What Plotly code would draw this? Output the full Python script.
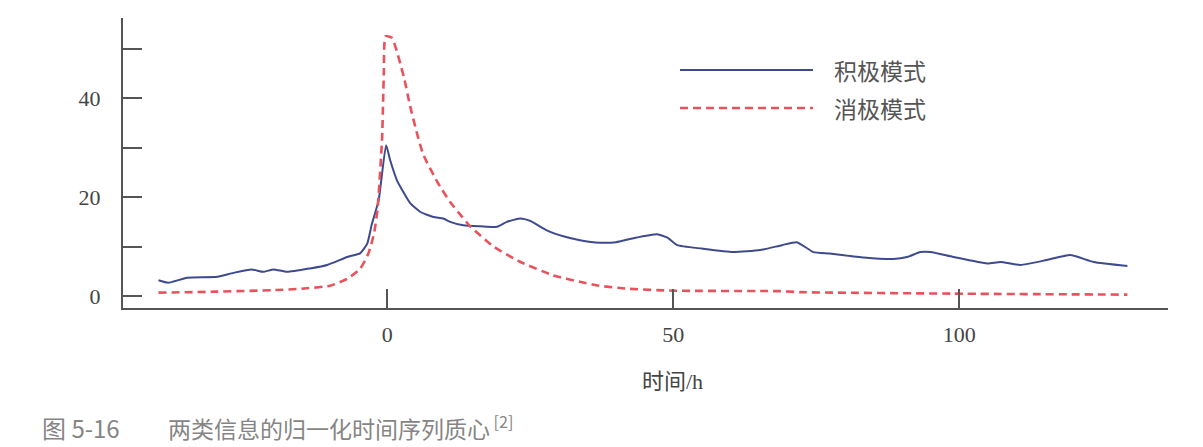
import plotly.graph_objects as go

# ---- data ----
pos_t = [-40, -38.3, -35, -29.7, -26.9, -23.7, -21.7, -19.9, -17.5, -13.5, -10.5, -7, -4.7, -3.5, -2.7, -1.5,
         -0.2, 0.5, 1.7, 4, 5.8, 8.1, 9.8, 11, 13.3, 16.3, 19.2, 20.9, 23.3, 25, 27.9, 30.8, 33.7, 37.2, 40,
         43, 47.2, 49, 50.7, 55, 60.5, 65.2, 69, 71.6, 74.5, 77.4, 83.3, 88.5, 90.9, 93.2, 95, 99, 104.9,
         107.2, 110.7, 115.3, 119.4, 123.5, 129.4]
pos_v = [3.2, 2.7, 3.7, 3.9, 4.7, 5.4, 4.9, 5.4, 4.9, 5.6, 6.3, 7.9, 8.7, 10.6, 14.5, 19.4,
         30.5, 27.5, 23.4, 18.8, 17.0, 16.0, 15.7, 15.0, 14.3, 14.1, 14.0, 15.0, 15.7, 15.2, 13.3, 12.1, 11.3, 10.8, 10.9,
         11.7, 12.5, 11.8, 10.3, 9.6, 8.9, 9.3, 10.3, 10.9, 8.9, 8.6, 7.8, 7.5, 7.9, 8.9, 8.9, 7.9, 6.6,
         6.9, 6.3, 7.3, 8.3, 6.9, 6.1]

neg_t = [-40, -30, -20, -15, -10, -7, -4.7, -3.3, -2.3, -1.7, -0.9, -0.6, -0.3, 0.8, 2.9, 4.0, 5.2, 6.3,
         8.7, 11.0, 13.1, 14.5, 18.6, 23.3, 29, 33.7, 37, 41.9, 50, 68.7, 72.2, 99, 129.4]
neg_v = [0.7, 0.9, 1.2, 1.5, 2.1, 3.5, 5.6, 8.6, 12.7, 17.6, 32, 45, 52.5, 52.2, 44.3, 38.4, 32.9, 28.6,
         23.2, 19.0, 16.0, 14.1, 10.0, 6.9, 4.2, 2.9, 2.1, 1.5, 1.1, 1.0, 0.8, 0.5, 0.3]

series_names = ["积极模式", "消极模式"]
x_tickvals = [0, 50, 100]
y_tickvals = [0, 20, 40]
y_minor_step = 10
x_title = "时间/h"
caption_fig = "图 5-16"
caption_text = "两类信息的归一化时间序列质心"
caption_ref = "[2]"

BLUE = "#3d4a8e"
RED = "#e8525c"
AXIS = "#555555"
TXT = "#444444"
SERIF = "Liberation Serif, Noto Sans CJK SC, serif"
CJK = "Noto Sans CJK SC, sans-serif"

fig = go.Figure()
fig.add_trace(go.Scatter(x=pos_t, y=pos_v, mode="lines", name=series_names[0],
                         line=dict(color=BLUE, width=2, shape="spline", smoothing=0.5),
                         showlegend=False))
fig.add_trace(go.Scatter(x=neg_t, y=neg_v, mode="lines", name=series_names[1],
                         line=dict(color=RED, width=2.6, dash="8px,5px", shape="spline", smoothing=0.5),
                         showlegend=False))

W, H = 1203, 447
L, R, T, B = 123, 35, 18, 139
pw, ph = W - L - R, H - T - B


def px(xp):
    return (xp - L) / pw


def py(yp):
    return (H - B - yp) / ph


# legend (custom, long sample lines)
shapes = [
    dict(type="line", xref="paper", yref="paper", x0=px(680), x1=px(813), y0=py(70), y1=py(70),
         line=dict(color=BLUE, width=2)),
    dict(type="line", xref="paper", yref="paper", x0=px(680), x1=px(813), y0=py(108), y1=py(108),
         line=dict(color=RED, width=2.6, dash="8px,5px")),
]
annotations = [
    dict(xref="paper", yref="paper", x=px(832), y=py(70), text=series_names[0], showarrow=False,
         xanchor="left", yanchor="middle", font=dict(family=CJK, size=23, color="#555555")),
    dict(xref="paper", yref="paper", x=px(832), y=py(108), text=series_names[1], showarrow=False,
         xanchor="left", yanchor="middle", font=dict(family=CJK, size=23, color="#555555")),
    dict(xref="paper", yref="paper", x=px(672), y=py(381), text=x_title, showarrow=False,
         xanchor="center", yanchor="middle", font=dict(family=SERIF, size=22, color=TXT)),
    dict(xref="paper", yref="paper", x=px(40), y=py(427), text=caption_fig, showarrow=False,
         xanchor="left", yanchor="middle", font=dict(family=CJK, size=24, color="#858585")),
    dict(xref="paper", yref="paper", x=px(166), y=py(427),
         text=caption_text + "<sup> " + caption_ref + "</sup>", showarrow=False,
         xanchor="left", yanchor="middle", font=dict(family=CJK, size=23, color="#858585")),
]

fig.update_layout(
    width=W, height=H,
    margin=dict(l=L, r=R, t=T, b=B, pad=0),
    paper_bgcolor="white", plot_bgcolor="white",
    shapes=shapes, annotations=annotations,
    showlegend=False,
)
fig.update_xaxes(range=[-46.2, 136.5], tickvals=x_tickvals, showgrid=False, zeroline=False,
                 showline=True, linecolor=AXIS, linewidth=2,
                 ticks="inside", ticklen=19, tickwidth=1.5, tickcolor=AXIS,
                 ticklabelstandoff=6,
                 tickfont=dict(family=SERIF, size=22, color=TXT))
fig.update_yaxes(range=[-2.4, 56.2], tickvals=y_tickvals, showgrid=False,
                 zeroline=False, showline=True, linecolor=AXIS, linewidth=2,
                 ticks="inside", ticklen=19, tickwidth=1.5, tickcolor=AXIS,
                 minor=dict(dtick=y_minor_step, tick0=0, ticks="inside", ticklen=19,
                            tickwidth=1.5, tickcolor=AXIS, showgrid=False),
                 ticklabelstandoff=16,
                 tickfont=dict(family=SERIF, size=22, color=TXT))

fig.write_html("out.html", config={"displayModeBar": False},
               post_script="document.body.style.margin='0px';")
